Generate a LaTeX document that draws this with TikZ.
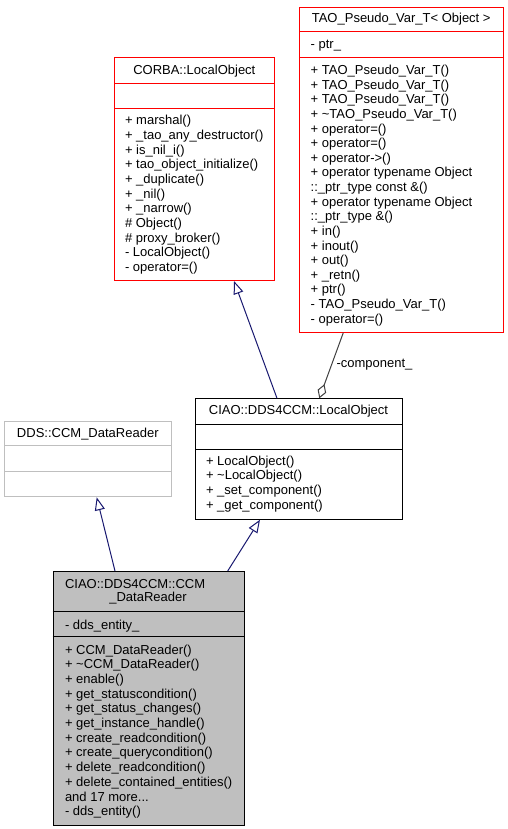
\documentclass[tikz,border=0pt]{standalone}
\usepackage{fontspec}
\setmainfont{Liberation Sans}
\usetikzlibrary{arrows.meta}
\definecolor{dxred}{HTML}{FF0000}
\definecolor{dxnavy}{HTML}{191970}
\definecolor{dxgray}{HTML}{BFBFBF}
\definecolor{dxdark}{HTML}{404040}
\tikzset{
  txt/.style={inner sep=0pt, outer sep=0pt, font=\fontsize{13}{14.6}\selectfont, text=black},
  redbox/.style={draw=dxred, line width=1pt, anchor=north west, inner sep=0pt, fill=white},
  blackbox/.style={draw=black, line width=1pt, anchor=north west, inner sep=0pt, fill=white},
  graybox/.style={draw=dxgray, line width=1pt, anchor=north west, inner sep=0pt, fill=white},
  selbox/.style={draw=black, line width=1pt, anchor=north west, inner sep=0pt, fill=dxgray},
  inherit/.style={draw=dxnavy, line width=1pt, -{Triangle[open, length=13pt, width=10pt]}},
  aggreg/.style={draw=dxdark, line width=1pt, {Diamond[open, length=15pt, width=9pt]}-},
}
\begin{document}
\begin{tikzpicture}[x=1pt, y=-1pt]
\useasboundingbox (0,0) rectangle (508,829);

% ---------------- CORBA::LocalObject
\node[redbox, minimum width=160pt, minimum height=222.7pt] (corba) at (114.3,57.3) {};
\draw[dxred, line width=1pt] ([yshift=-26pt]corba.north west) -- ([yshift=-26pt]corba.north east);
\draw[dxred, line width=1pt] ([yshift=-51.7pt]corba.north west) -- ([yshift=-51.7pt]corba.north east);
\node[txt, anchor=base] (corbah) at (194.3,74.5) {CORBA::LocalObject};
\foreach \t [count=\i] in {{+ marshal()},{+ \_tao\_any\_destructor()},{+ is\_nil\_i()},
  {+ tao\_object\_initialize()},{+ \_duplicate()},{+ \_nil()},{+ \_narrow()},
  {\# Object()},{\# proxy\_broker()},{- LocalObject()},{- operator=()}}
  \node[txt, anchor=base west] (corbam\i) at (125,{125+14.63*(\i-1)}) {\t};

% ---------------- TAO_Pseudo_Var_T< Object >
\node[redbox, minimum width=204.3pt, minimum height=325pt] (tao) at (299,6.7) {};
\draw[dxred, line width=1pt] ([yshift=-25.3pt]tao.north west) -- ([yshift=-25.3pt]tao.north east);
\draw[dxred, line width=1pt] ([yshift=-50.6pt]tao.north west) -- ([yshift=-50.6pt]tao.north east);
\node[txt, anchor=base] (taoh) at (401.2,23) {TAO\_Pseudo\_Var\_T< Object >};
\node[txt, anchor=base west] (taoa) at (310.7,48.5) {- ptr\_};
\foreach \t [count=\i] in {{+ TAO\_Pseudo\_Var\_T()},{+ TAO\_Pseudo\_Var\_T()},{+ TAO\_Pseudo\_Var\_T()},
  {+ \textasciitilde TAO\_Pseudo\_Var\_T()},{+ operator=()},{+ operator=()},{+ operator->()},
  {+ operator typename Object},{::\_ptr\_type const \&()},{+ operator typename Object},
  {::\_ptr\_type \&()},{+ in()},{+ inout()},{+ out()},{+ \_retn()},{+ ptr()},
  {- TAO\_Pseudo\_Var\_T()},{- operator=()}}
  \node[txt, anchor=base west] (taom\i) at (310.7,{74.5+14.63*(\i-1)}) {\t};

% ---------------- CIAO::DDS4CCM::LocalObject
\node[blackbox, minimum width=207pt, minimum height=120.4pt] (ciaolo) at (195,398.3) {};
\draw[black, line width=1pt] ([yshift=-26pt]ciaolo.north west) -- ([yshift=-26pt]ciaolo.north east);
\draw[black, line width=1pt] ([yshift=-51pt]ciaolo.north west) -- ([yshift=-51pt]ciaolo.north east);
\node[txt, anchor=base] (ciaoloh) at (298.5,414.5) {CIAO::DDS4CCM::LocalObject};
\foreach \t [count=\i] in {{+ LocalObject()},{+ \textasciitilde LocalObject()},
  {+ \_set\_component()},{+ \_get\_component()}}
  \node[txt, anchor=base west] (ciaolom\i) at (206,{465+14.77*(\i-1)}) {\t};

% ---------------- DDS::CCM_DataReader
\node[graybox, minimum width=167pt, minimum height=75.6pt] (dds) at (4.3,420.7) {};
\draw[dxgray, line width=1pt] ([yshift=-25pt]dds.north west) -- ([yshift=-25pt]dds.north east);
\draw[dxgray, line width=1pt] ([yshift=-50.3pt]dds.north west) -- ([yshift=-50.3pt]dds.north east);
\node[txt, anchor=base] (ddsh) at (87.8,437) {DDS::CCM\_DataReader};

% ---------------- CIAO::DDS4CCM::CCM_DataReader
\node[selbox, minimum width=191pt, minimum height=254pt] (ccm) at (52.7,571) {};
\draw[black, line width=1pt] ([yshift=-40.5pt]ccm.north west) -- ([yshift=-40.5pt]ccm.north east);
\draw[black, line width=1pt] ([yshift=-65.5pt]ccm.north west) -- ([yshift=-65.5pt]ccm.north east);
\node[txt, anchor=base west] (ccmh1) at (65,588) {CIAO::DDS4CCM::CCM};
\node[txt, anchor=base] (ccmh2) at (148,601.5) {\_DataReader};
\node[txt, anchor=base west] (ccma) at (65,629) {- dds\_entity\_};
\foreach \t [count=\i] in {{+ CCM\_DataReader()},{+ \textasciitilde CCM\_DataReader()},{+ enable()},
  {+ get\_statuscondition()},{+ get\_status\_changes()},{+ get\_instance\_handle()},
  {+ create\_readcondition()},{+ create\_querycondition()},{+ delete\_readcondition()},
  {+ delete\_contained\_entities()}}
  \node[txt, anchor=base west] (ccmm\i) at (65,{654+14.7*(\i-1)}) {\t};
\node[txt, anchor=base west] (ccmm11) at (65,{654+14.7*10}) {and 17 more.{}.{}.};
\node[txt, anchor=base west] (ccmm12) at (65,{654+14.7*11}) {- dds\_entity()};

% ---------------- connectors
\draw[inherit] ([xshift=82pt]ciaolo.north west) -- ([xshift=119.7pt]corba.south west);
\draw[aggreg] ([xshift=124.3pt]ciaolo.north west) -- ([xshift=44.3pt]tao.south west);
\node[txt, anchor=west] (complabel) at (336.5,365) {-component\_};
\draw[inherit] ([xshift=62.3pt]ccm.north west) -- ([xshift=92.4pt]dds.south west);
\draw[inherit] ([xshift=175pt]ccm.north west) -- ([xshift=65pt]ciaolo.south west);
\end{tikzpicture}
\end{document}
